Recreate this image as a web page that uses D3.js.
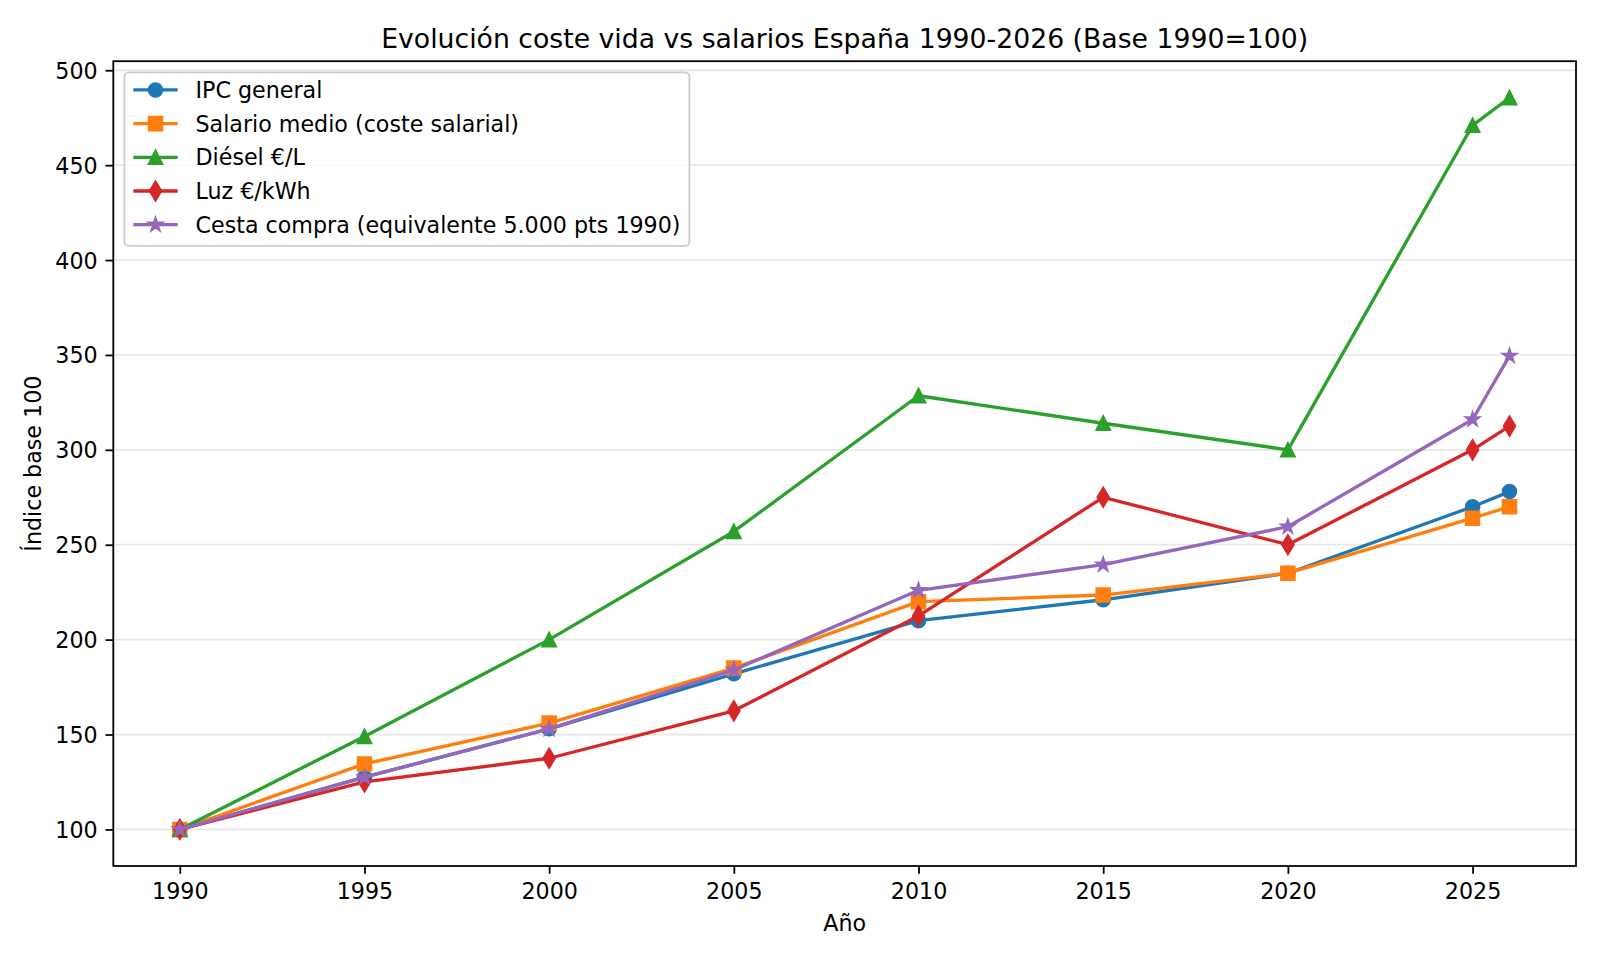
<!DOCTYPE html>
<html>
<head>
<meta charset="utf-8">
<script src="https://cdn.jsdelivr.net/npm/d3@7"></script>
<style>
html, body { margin: 0; padding: 0; background: #fff; }
svg { display: block; font-family: "DejaVu Sans", sans-serif; }
</style>
</head>
<body>
<svg id="chart" width="1600" height="960"></svg>
<script>
// ---- data ----
const years = [1990, 1995, 2000, 2005, 2010, 2015, 2020, 2025, 2026];
const ipc = [100, 127.5, 153, 182, 210, 221, 235, 270, 278];
const salario = [100, 134.5, 156, 185, 220, 223.5, 235, 264, 270];
const diesel = [100, 149, 200, 257, 328.5, 314, 300, 471, 485.5];
const luz = [100, 125, 137.5, 162.5, 212.5, 275, 250, 300, 312.5];
const cesta = [100, 127.5, 153, 184, 226, 239.5, 259.5, 316, 349.5];
const seriesNames = ["IPC general", "Salario medio (coste salarial)", "Diésel €/L", "Luz €/kWh", "Cesta compra (equivalente 5.000 pts 1990)"];
const xTicks = [1990, 1995, 2000, 2005, 2010, 2015, 2020, 2025];
const yTicks = [100, 150, 200, 250, 300, 350, 400, 450, 500];
const titleText = "Evolución coste vida vs salarios España 1990-2026 (Base 1990=100)";
const xLabel = "Año";
const yLabel = "Índice base 100";

const seriesValues = [ipc, salario, diesel, luz, cesta];
const colors = ["#1f77b4", "#ff7f0e", "#2ca02c", "#d62728", "#9467bd"];
const markers = ["circle", "square", "triangle", "thin_diamond", "star"];

// ---- layout ----
const L = 113.3, R = 1576, T = 61.2, B = 866;
const fs = 22.2;       // 10pt @160dpi
const ms = 13.33;      // marker size 6pt
const lw = 3.33;       // line width 1.5pt
const mew = 2.22;      // marker edge width 1pt

const svg = d3.select("#chart");

const xExt = d3.extent(years);
const xPad = (xExt[1] - xExt[0]) * 0.05;
const x = d3.scaleLinear().domain([xExt[0] - xPad, xExt[1] + xPad]).range([L, R]);
const allVals = seriesValues.flat();
const yExt = d3.extent(allVals);
const yPad = (yExt[1] - yExt[0]) * 0.05;
const y = d3.scaleLinear().domain([yExt[0] - yPad, yExt[1] + yPad]).range([B, T]);

// grid (horizontal)
svg.append("g").selectAll("line").data(yTicks).join("line")
  .attr("x1", L).attr("x2", R)
  .attr("y1", d => y(d)).attr("y2", d => y(d))
  .attr("stroke", "#b0b0b0").attr("stroke-opacity", 0.3).attr("stroke-width", 1.78);

// marker path generators (centered at 0,0)
function markerPath(type) {
  const h = ms / 2;
  if (type === "circle") {
    return d3.symbol().type(d3.symbolCircle).size(Math.PI * h * h)();
  }
  if (type === "square") {
    return `M${-h},${-h}L${h},${-h}L${h},${h}L${-h},${h}Z`;
  }
  if (type === "triangle") {
    return `M0,${-h}L${-h},${h}L${h},${h}Z`;
  }
  if (type === "thin_diamond") {
    const dh = ms * Math.SQRT2 / 2, dw = dh * 0.6;
    return `M0,${-dh}L${dw},0L0,${dh}L${-dw},0Z`;
  }
  if (type === "star") {
    const ro = h, ri = h * 0.381966;
    let p = "";
    for (let i = 0; i < 10; i++) {
      const r = i % 2 === 0 ? ro : ri;
      const a = -Math.PI / 2 + i * Math.PI / 5;
      p += (i === 0 ? "M" : "L") + (r * Math.cos(a)).toFixed(3) + "," + (r * Math.sin(a)).toFixed(3);
    }
    return p + "Z";
  }
}

const line = d3.line().x(d => x(d[0])).y(d => y(d[1]));

const plot = svg.append("g");
seriesValues.forEach((vals, i) => {
  const pts = years.map((yr, j) => [yr, vals[j]]);
  const g = plot.append("g");
  g.append("path").attr("d", line(pts))
    .attr("fill", "none").attr("stroke", colors[i]).attr("stroke-width", lw)
    .attr("stroke-linejoin", "round").attr("stroke-linecap", "butt");
  g.selectAll("path.m").data(pts).join("path").attr("class", "m")
    .attr("d", markerPath(markers[i]))
    .attr("transform", d => `translate(${x(d[0])},${y(d[1])})`)
    .attr("fill", colors[i]).attr("stroke", colors[i]).attr("stroke-width", mew)
    .attr("stroke-linejoin", "miter");
});

// axes
const xAxis = d3.axisBottom(x).tickValues(xTicks).tickFormat(d3.format("d")).tickSizeOuter(0).tickSize(7.8).tickPadding(7.8);
const yAxis = d3.axisLeft(y).tickValues(yTicks).tickFormat(d3.format("d")).tickSizeOuter(0).tickSize(7.8).tickPadding(7.8);
const gx = svg.append("g").attr("transform", `translate(0,${B})`).call(xAxis);
const gy = svg.append("g").attr("transform", `translate(${L},0)`).call(yAxis);
[gx, gy].forEach(g => {
  g.select(".domain").remove();
  g.selectAll(".tick line").attr("stroke", "#000").attr("stroke-width", 1.78);
  g.selectAll(".tick text").attr("fill", "#000").attr("font-size", fs).attr("font-family", "DejaVu Sans");
});
gx.selectAll(".tick text").attr("dy", null).attr("y", 7.8 + 7.8 + 16.9);
gy.selectAll(".tick text").attr("dy", "0.36em");

// spines
svg.append("rect").attr("x", L).attr("y", T).attr("width", R - L).attr("height", B - T)
  .attr("fill", "none").attr("stroke", "#000").attr("stroke-width", 1.78);

// title & labels
svg.append("text").attr("x", (L + R) / 2).attr("y", T - 13.3)
  .attr("text-anchor", "middle").attr("font-size", 26.7).attr("fill", "#000").text(titleText);
svg.append("text").attr("x", (L + R) / 2).attr("y", 931)
  .attr("text-anchor", "middle").attr("font-size", fs).attr("fill", "#000").text(xLabel);
svg.append("text").attr("transform", `translate(40.5,${(T + B) / 2}) rotate(-90)`)
  .attr("text-anchor", "middle").attr("font-size", fs).attr("fill", "#000").text(yLabel);

// legend
const lx = L + 11.1, ly = T + 11.1;
const pad = 8.9, handleLen = 44.4, textPad = 17.8, rowH = 33.7;
const leg = svg.append("g");
const frame = leg.append("rect");
const items = leg.append("g");
let maxW = 0;
seriesNames.forEach((name, i) => {
  const cy = ly + 17.6 + i * rowH;
  const hx0 = lx + pad, hx1 = hx0 + handleLen;
  items.append("line").attr("x1", hx0).attr("x2", hx1).attr("y1", cy).attr("y2", cy)
    .attr("stroke", colors[i]).attr("stroke-width", lw);
  items.append("path").attr("d", markerPath(markers[i]))
    .attr("transform", `translate(${(hx0 + hx1) / 2},${cy})`)
    .attr("fill", colors[i]).attr("stroke", colors[i]).attr("stroke-width", mew);
  const t = items.append("text").attr("x", hx1 + textPad).attr("y", cy).attr("dy", "0.36em")
    .attr("font-size", fs).attr("fill", "#000").text(name);
  maxW = Math.max(maxW, t.node().getComputedTextLength());
});
const frameW = pad + handleLen + textPad + maxW + pad;
frame.attr("x", lx).attr("y", ly).attr("width", frameW).attr("height", 173.5)
  .attr("rx", 4.4).attr("ry", 4.4)
  .attr("fill", "#fff").attr("fill-opacity", 0.8)
  .attr("stroke", "#cccccc").attr("stroke-width", 1.78);
</script>
</body>
</html>
